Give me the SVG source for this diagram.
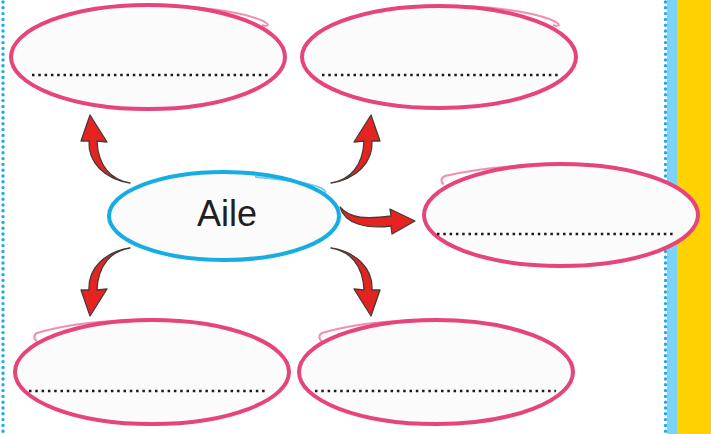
<svg xmlns="http://www.w3.org/2000/svg" width="711" height="434" viewBox="0 0 711 434">
<defs>
<style>
.bubble{fill:#fbfbfc;stroke:#e6457a;stroke-width:4}
.loop{fill:none;stroke:#e6457a;stroke-width:2;opacity:0.6}
.dots{stroke:#1a1a1a;stroke-width:2.5;stroke-dasharray:2.5 3.8}
.border{stroke:#16aee8;stroke-width:3.4;stroke-linecap:round;stroke-dasharray:0 5.8}
.arrow{fill:#e52421;stroke:#4a3a38;stroke-width:1.3;stroke-linejoin:round}
.label{font-family:"Liberation Sans",Arial,sans-serif;font-size:36px;fill:#231f20}
</style>
<path id="arrowTL" d="M130,183 C111,180 98,166 97,141 L107,142 L90,115 L81,141 L89,141 C88,163 105,179 130,183 Z"/>
</defs>
<rect width="711" height="434" fill="#ffffff"/>
<rect x="667" y="0" width="11" height="434" fill="#7dd3f5"/>
<rect x="677" y="0" width="34" height="434" fill="#ffd200"/>
<line class="border" x1="3" y1="2" x2="3" y2="434"/>
<line class="border" x1="665.5" y1="2" x2="665.5" y2="434"/>

<g id="connectors">
<use href="#arrowTL" class="arrow"/>
<use href="#arrowTL" class="arrow" transform="translate(461,0) scale(-1,1)"/>
<use href="#arrowTL" class="arrow" transform="translate(0,431) scale(1,-1)"/>
<use href="#arrowTL" class="arrow" transform="translate(461,431) scale(-1,-1)"/>
<path class="arrow" d="M340,207 C345,224 366,229 391,226 L392,234 L415,221 L390,209 L391,216 C367,219 350,219 340,207 Z"/>
</g>

<g id="node-top-left">
<ellipse class="bubble" cx="148" cy="57" rx="137" ry="52"/>
<path class="loop" d="M175,6 C215,8 250,14 265,22 C270,25 268,27 262,25"/>
<line class="dots" x1="32" y1="75" x2="270" y2="75"/>
</g>
<g id="node-top-right">
<ellipse class="bubble" cx="439" cy="57" rx="137" ry="51"/>
<path class="loop" d="M466,6 C506,8 541,14 556,22 C561,25 559,27 553,25"/>
<line class="dots" x1="322" y1="75" x2="560" y2="75"/>
</g>
<g id="node-right">
<ellipse class="bubble" cx="561" cy="215" rx="137" ry="51"/>
<path class="loop" d="M540,165 C500,166 470,170 445,176 C440,178 441,183 444,184"/>
<line class="dots" x1="437" y1="234" x2="676" y2="234"/>
</g>
<g id="node-bottom-left">
<ellipse class="bubble" cx="152" cy="372" rx="137" ry="52"/>
<path class="loop" d="M125,320 C90,322 60,326 37,333 C33,335 34,340 37,341"/>
<line class="dots" x1="29" y1="391" x2="266" y2="391"/>
</g>
<g id="node-bottom-right">
<ellipse class="bubble" cx="436" cy="372" rx="137" ry="52"/>
<path class="loop" d="M410,320 C375,322 345,326 322,333 C318,335 319,340 322,341"/>
<line class="dots" x1="315" y1="391" x2="556" y2="391"/>
</g>
<g id="node-center">
<ellipse cx="224" cy="216" rx="115" ry="44" fill="#fbfbfc" stroke="#18ade2" stroke-width="4"/>
<path d="M255,177 C290,180 318,184 324,190 C327,193 325,195 322,194" fill="none" stroke="#18ade2" stroke-width="2" opacity="0.6"/>
<text class="label" x="227" y="226" text-anchor="middle">Aile</text>
</g>
</svg>
